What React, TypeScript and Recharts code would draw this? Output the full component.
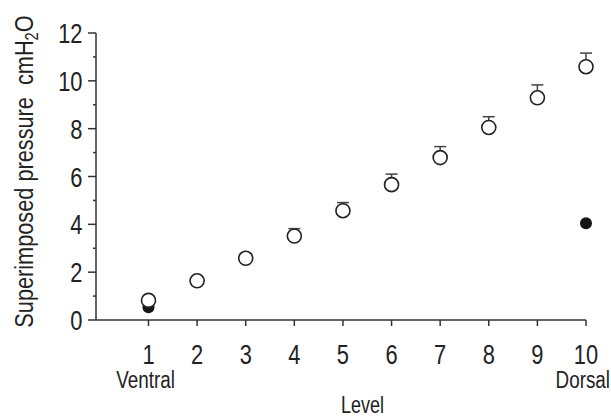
import { ScatterChart, Scatter, XAxis, YAxis, ErrorBar } from 'recharts'

// ── Data ─────────────────────────────────────────────────────────────────────

const levels = [1, 2, 3, 4, 5, 6, 7, 8, 9, 10]
const meanPressure = [0.82, 1.64, 2.58, 3.51, 4.57, 5.66, 6.79, 8.05, 9.29, 10.59]
const upperError = [0.1, 0.15, 0.2, 0.31, 0.34, 0.44, 0.46, 0.45, 0.54, 0.57]

const filledLevels = [1, 10]
const filledPressure = [0.53, 4.05]

const yTicks = [0, 1, 2, 3, 4, 5, 6, 7, 8, 9, 10, 11, 12]
const endLabels = ['Ventral', '', '', '', '', '', '', '', '', 'Dorsal']

const openData = levels.map((lv, i) => ({
  level: lv,
  pressure: meanPressure[i],
  err: [0, upperError[i]],
}))
const filledData = filledLevels.map((lv, i) => ({ level: lv, pressure: filledPressure[i] }))

// ── Styling ──────────────────────────────────────────────────────────────────

const FONT = '"Liberation Sans", Arial, sans-serif'
const INK = '#222'
const AXIS = '#333'

// horizontally squeezed text, to mimic the condensed face of the original figure
// eslint-disable-next-line @typescript-eslint/no-explicit-any
const CondText = ({ x, y, anchor = 'middle', size = 27, squeeze = 0.81, children }: any) => (
  <text
    transform={`translate(${x},${y}) scale(${squeeze},1)`}
    textAnchor={anchor}
    fontFamily={FONT}
    fontSize={size}
    fill={INK}
  >
    {children}
  </text>
)

// eslint-disable-next-line @typescript-eslint/no-explicit-any
const YTick = ({ x, y, payload }: any) => {
  const major = payload.value % 2 === 0
  return (
    <g>
      <line x1={x - (major ? 8 : 3)} x2={x} y1={y} y2={y} stroke={AXIS} strokeWidth={1.5} />
      {major && (
        <CondText x={x - 13.5} y={y + 10} anchor="end">
          {payload.value}
        </CondText>
      )}
    </g>
  )
}

// eslint-disable-next-line @typescript-eslint/no-explicit-any
const XTick = ({ x, y, payload }: any) => {
  const idx = levels.indexOf(payload.value)
  const side = endLabels[idx] ?? ''
  const isLast = idx === levels.length - 1
  return (
    <g>
      <line x1={x} x2={x} y1={y} y2={y + 6} stroke={AXIS} strokeWidth={1.5} />
      <CondText x={x} y={y + 43.5}>{payload.value}</CondText>
      {side && (
        <CondText
          x={isLast ? x + 24 : x - 3}
          y={y + 68}
          anchor={isLast ? 'end' : 'middle'}
          size={23}
          squeeze={0.82}
        >
          {side}
        </CondText>
      )}
    </g>
  )
}

// eslint-disable-next-line @typescript-eslint/no-explicit-any
const XLabel = ({ viewBox }: any) => (
  <CondText x={viewBox.x + viewBox.width / 2 + 21.5} y={viewBox.y + 93} size={24} squeeze={0.75}>
    Level
  </CondText>
)

// eslint-disable-next-line @typescript-eslint/no-explicit-any
const YLabel = ({ viewBox }: any) => (
  <text
    transform={`translate(${viewBox.x - 3},${viewBox.y + viewBox.height / 2 - 5}) rotate(-90) scale(0.82,1)`}
    textAnchor="middle"
    fontFamily={FONT}
    fontSize={26.5}
    fill={INK}
  >
    {'Superimposed pressure\u00a0\u00a0cmH'}
    <tspan fontSize={18} dy={5}>2</tspan>
    <tspan dy={-5}>O</tspan>
  </text>
)

// eslint-disable-next-line @typescript-eslint/no-explicit-any
const OpenDot = (props: any) => (
  <circle cx={props.cx} cy={props.cy} r={7} fill="#fff" stroke={INK} strokeWidth={1.6} />
)

// eslint-disable-next-line @typescript-eslint/no-explicit-any
const FilledDot = (props: any) => <circle cx={props.cx} cy={props.cy} r={6} fill="#151515" />

export default function App() {
  return (
    <div style={{ position: 'absolute', left: 0, top: 0, width: 611, height: 417, background: '#fff' }}>
      <ScatterChart width={611} height={417} margin={{ top: 33, right: 25, bottom: 0, left: 36 }}>
        <XAxis
          type="number"
          dataKey="level"
          domain={[-0.08, 10]}
          ticks={levels}
          interval={0}
          height={97}
          tickSize={0}
          tickMargin={0}
          tick={<XTick />}
          axisLine={{ stroke: AXIS, strokeWidth: 1.5 }}
          label={<XLabel />}
        />
        <YAxis
          type="number"
          dataKey="pressure"
          domain={[0, 12]}
          ticks={yTicks}
          interval={0}
          width={60}
          tickSize={0}
          tickMargin={0}
          tick={<YTick />}
          axisLine={{ stroke: AXIS, strokeWidth: 1.5 }}
          label={<YLabel />}
        />
        <Scatter data={filledData} shape={<FilledDot />} isAnimationActive={false} />
        <Scatter data={openData} shape={<OpenDot />} isAnimationActive={false}>
          <ErrorBar dataKey="err" direction="y" width={6} stroke="#444" strokeWidth={1.5} />
        </Scatter>
      </ScatterChart>
    </div>
  )
}
